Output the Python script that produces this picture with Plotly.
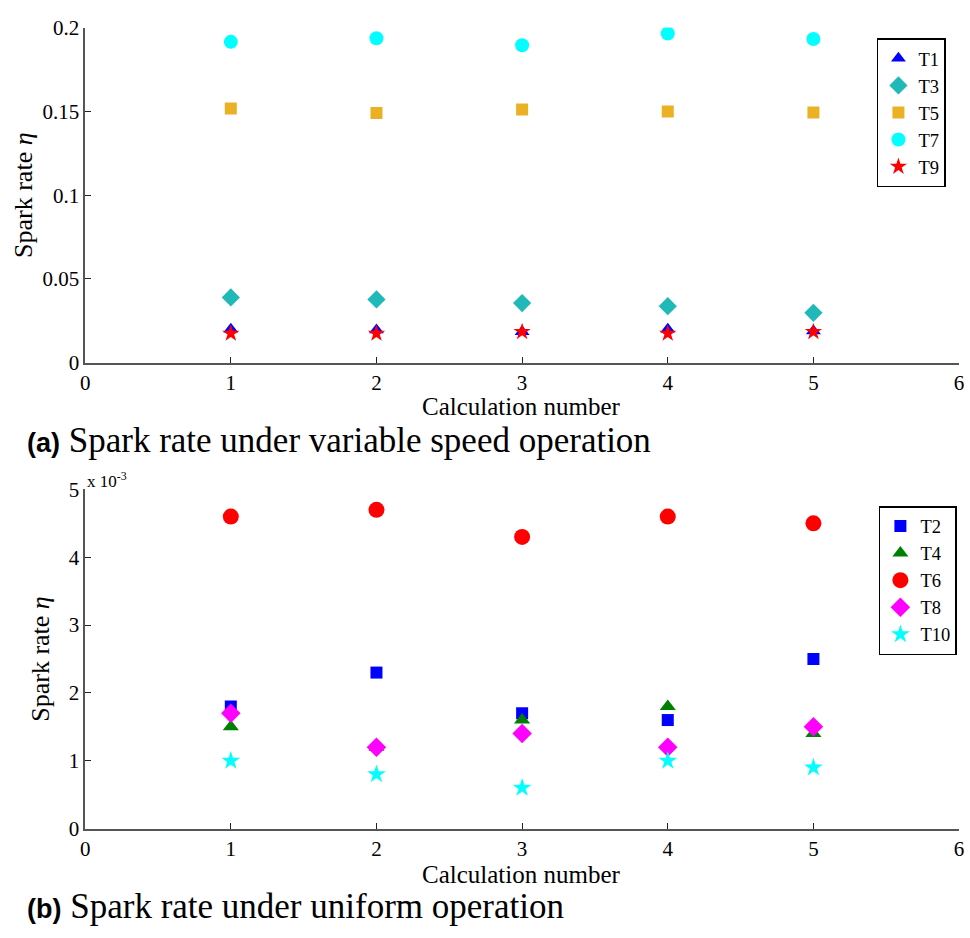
import plotly.graph_objects as go

calc = [1, 2, 3, 4, 5]
# (a) variable speed operation
T1 = [0.020, 0.0195, 0.0185, 0.020, 0.019]
T3 = [0.039, 0.0378, 0.0356, 0.0338, 0.0298]
T5 = [0.1517, 0.1490, 0.1512, 0.1500, 0.1494]
T7 = [0.1915, 0.1936, 0.1895, 0.1965, 0.1932]
T9 = [0.0175, 0.0175, 0.0185, 0.0175, 0.0185]
# (b) uniform operation (x 10^-3)
T2 = [1.8, 2.3, 1.7, 1.6, 2.5]
T4 = [1.5, 1.2, 1.6, 1.8, 1.4]
T6 = [4.6, 4.7, 4.3, 4.6, 4.5]
T8 = [1.7, 1.2, 1.4, 1.2, 1.5]
T10 = [1.0, 0.8, 0.6, 1.0, 0.9]

serif = "Liberation Serif, Times New Roman, serif"
fig = go.Figure()

def add(name, y, sym, color, size, xa, ya, leg):
    fig.add_trace(go.Scatter(x=calc, y=y, mode="markers", name=name,
                             marker=dict(symbol=sym, color=color, size=size, line=dict(width=0)),
                             xaxis=xa, yaxis=ya, legend=leg))

add("T1", T1, "triangle-up", "#0000ff", 13, "x", "y", "legend")
add("T3", T3, "diamond", "#20b8b8", 14, "x", "y", "legend")
add("T5", T5, "square", "#ebb125", 12, "x", "y", "legend")
add("T7", T7, "circle", "#00ffff", 14, "x", "y", "legend")
add("T9", T9, "star", "#ff0000", 13, "x", "y", "legend")

add("T2", T2, "square", "#0000ff", 12, "x2", "y2", "legend2")
add("T4", T4, "triangle-up", "#008000", 14, "x2", "y2", "legend2")
add("T6", T6, "circle", "#ff0000", 16, "x2", "y2", "legend2")
add("T8", T8, "diamond", "#ff00ff", 15, "x2", "y2", "legend2")
add("T10", T10, "star", "#00ffff", 14, "x2", "y2", "legend2")

W, H = 970, 938
xd = [81 / W, 964 / W]
ax_common = dict(showgrid=False, zeroline=False, showline=True, linecolor="#555555", linewidth=1.5,
                 ticks="inside", ticklen=6, tickcolor="#222222",
                 tickfont=dict(family=serif, size=21, color="#000"))
title_font = dict(family=serif, size=26, color="#000")
leg_font = dict(family=serif, size=18.5, color="#000")

fig.update_layout(
    width=W, height=H, margin=dict(l=0, r=0, t=0, b=0),
    plot_bgcolor="white", paper_bgcolor="white",
    font=dict(family=serif),
    xaxis=dict(domain=xd, anchor="y", range=[0, 6], dtick=1, **ax_common),
    yaxis=dict(domain=[1 - 360 / H, 1 - 16 / H], anchor="x", range=[0, 0.2], dtick=0.05,
               tickvals=[0, 0.05, 0.1, 0.15, 0.2], ticktext=["0", "0.05", "0.1", "0.15", "0.2"],
               title=dict(text="Spark rate <i>η</i>", font=title_font, standoff=2),
               **ax_common),
    xaxis2=dict(domain=xd, anchor="y2", range=[0, 6], dtick=1, **ax_common),
    yaxis2=dict(domain=[1 - 838 / H, 1 - 490 / H], anchor="x2", range=[0, 5], dtick=1,
                title=dict(text="Spark rate <i>η</i>", font=title_font, standoff=12),
                **ax_common),
    legend=dict(x=881 / W, y=1 - 27 / H, xanchor="left", yanchor="top",
                bordercolor="#000", borderwidth=1.5, bgcolor="white",
                font=leg_font, tracegroupgap=0, itemwidth=30),
    legend2=dict(x=883 / W, y=1 - 507 / H, xanchor="left", yanchor="top",
                 bordercolor="#000", borderwidth=1.5, bgcolor="white",
                 font=leg_font, tracegroupgap=0, itemwidth=30),
    showlegend=True,
)

# x-axis titles
for ypx in (405, 885):
    fig.add_annotation(x=522 / W, y=1 - ypx / H, xref="paper", yref="paper", xanchor="center", yanchor="middle",
                       text="Calculation number", showarrow=False, font=dict(family=serif, size=25, color="#000"))

fig.add_annotation(x=81 / W, y=1 - 480 / H, xref="paper", yref="paper", xanchor="left", yanchor="middle",
                   text="x 10<sup>-3</sup>", showarrow=False, font=dict(family=serif, size=17, color="#000"))
fig.add_annotation(x=20 / W, y=1 - 440 / H, xref="paper", yref="paper", xanchor="left", yanchor="middle",
                   text="<span style='font-family:Liberation Sans;font-weight:bold;font-size:27px'>(a)</span> Spark rate under variable speed operation",
                   showarrow=False, font=dict(family=serif, size=35, color="#000"))
fig.add_annotation(x=20 / W, y=1 - 918 / H, xref="paper", yref="paper", xanchor="left", yanchor="middle",
                   text="<span style='font-family:Liberation Sans;font-weight:bold;font-size:27px'>(b)</span> Spark rate under uniform operation",
                   showarrow=False, font=dict(family=serif, size=35, color="#000"))

fig.write_html("out.html")
